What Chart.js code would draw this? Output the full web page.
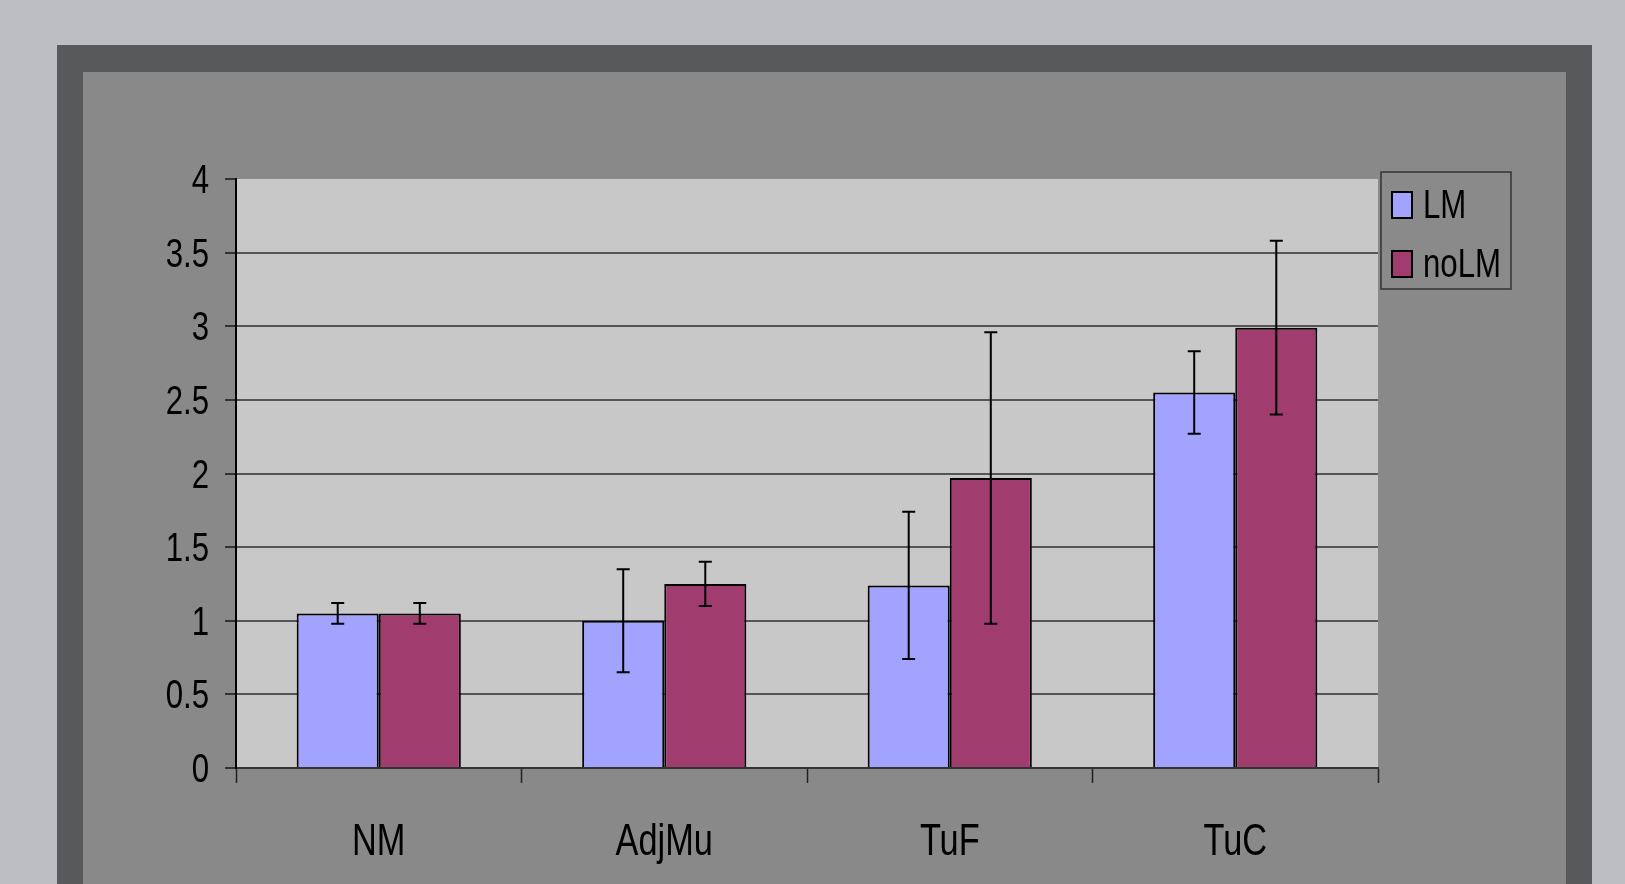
<!DOCTYPE html>
<html>
<head>
<meta charset="utf-8">
<title>LM vs noLM</title>
<script src="https://cdn.jsdelivr.net/npm/chart.js@4/dist/chart.umd.min.js"></script>
<style>
  html, body { margin: 0; padding: 0; background: #bdbec2; overflow: hidden; }
  canvas { display: block; }
</style>
</head>
<body>
<canvas id="myChart" width="1625" height="884"></canvas>
<script>
// Data
const categories = ['NM', 'AdjMu', 'TuF', 'TuC'];
const lmValues = [1.05, 1.0, 1.24, 2.55];
const lmErrors = [0.07, 0.35, 0.50, 0.28];
const noLmValues = [1.05, 1.25, 1.97, 2.99];
const noLmErrors = [0.07, 0.15, 0.99, 0.59];
const yTicks = [0, 0.5, 1, 1.5, 2, 2.5, 3, 3.5, 4];

const FONT = "'Liberation Sans Narrow', 'Arial Narrow', 'Liberation Sans', Arial, sans-serif";
const NARROW = 0.78; // squeeze to look like the narrow face of the original

// draw text squeezed horizontally
function narrowText(ctx, text, x, y, align) {
    ctx.save();
    ctx.translate(x, y);
    ctx.scale(NARROW, 1);
    ctx.textAlign = align;
    ctx.fillText(text, 0, 0);
    ctx.restore();
}

// Frame and plot background
const backgroundPlugin = {
    id: 'background',
    beforeDraw: function(chart) {
        const ctx = chart.ctx;
        const a = chart.chartArea;
        ctx.save();
        ctx.fillStyle = '#bdbec2';
        ctx.fillRect(0, 0, chart.width, chart.height);
        ctx.fillStyle = '#58595b';
        ctx.fillRect(57, 45, 1535, chart.height - 45);
        ctx.fillStyle = '#898989';
        ctx.fillRect(83, 72, 1483, chart.height - 72);
        ctx.fillStyle = '#c8c8c8';
        ctx.fillRect(a.left, a.top, a.right - a.left, a.bottom - a.top);
        ctx.restore();
    }
};

// Error bars drawn from the bar elements and the y scale
const errorBarPlugin = {
    id: 'errorBars',
    afterDatasetsDraw: function(chart) {
        const ctx = chart.ctx;
        const yScale = chart.scales.y;
        ctx.save();
        ctx.strokeStyle = '#000';
        ctx.lineWidth = 2;
        chart.data.datasets.forEach(function(ds, i) {
            const meta = chart.getDatasetMeta(i);
            meta.data.forEach(function(bar, j) {
                const v = ds.data[j];
                const e = ds.errors[j];
                const top = yScale.getPixelForValue(v + e);
                const bot = yScale.getPixelForValue(v - e);
                ctx.beginPath();
                ctx.moveTo(bar.x, top);
                ctx.lineTo(bar.x, bot);
                ctx.moveTo(bar.x - 6.5, top);
                ctx.lineTo(bar.x + 6.5, top);
                ctx.moveTo(bar.x - 6.5, bot);
                ctx.lineTo(bar.x + 6.5, bot);
                ctx.stroke();
            });
        });
        ctx.restore();
    }
};

// Axis labels, placed by the scales, drawn narrow
const axisLabelPlugin = {
    id: 'axisLabels',
    afterDraw: function(chart) {
        const ctx = chart.ctx;
        const x = chart.scales.x;
        const y = chart.scales.y;
        ctx.save();
        ctx.fillStyle = '#000';
        ctx.textBaseline = 'alphabetic';
        ctx.font = '40px ' + FONT;
        y.ticks.forEach(function(t) {
            narrowText(ctx, String(t.value), 209, y.getPixelForValue(t.value) + 14, 'right');
        });
        ctx.font = '44px ' + FONT;
        chart.data.labels.forEach(function(label, i) {
            narrowText(ctx, label, x.getPixelForValue(i), 855, 'center');
        });
        ctx.restore();
    }
};

// Boxed legend at the right of the plot
const legendBoxPlugin = {
    id: 'legendBox',
    afterDraw: function(chart) {
        const ctx = chart.ctx;
        ctx.save();
        ctx.fillStyle = '#8a8a8a';
        ctx.fillRect(1381, 172, 130, 117);
        ctx.strokeStyle = '#333';
        ctx.lineWidth = 1.5;
        ctx.strokeRect(1381, 172, 130, 117);
        const rows = [205, 264];
        ctx.font = '40px ' + FONT;
        ctx.textBaseline = 'alphabetic';
        chart.data.datasets.forEach(function(ds, i) {
            const cy = rows[i];
            ctx.fillStyle = ds.backgroundColor;
            ctx.fillRect(1392, cy - 13, 20, 26);
            ctx.strokeStyle = '#000';
            ctx.lineWidth = 2;
            ctx.strokeRect(1392, cy - 13, 20, 26);
            ctx.fillStyle = '#000';
            narrowText(ctx, ds.label, 1423, cy + 13, 'left');
        });
        ctx.restore();
    }
};

const data = {
    labels: categories,
    datasets: [
        {
            label: 'LM',
            data: lmValues,
            errors: lmErrors,
            backgroundColor: '#a2a2ff',
            borderColor: '#000',
            borderWidth: 2
        },
        {
            label: 'noLM',
            data: noLmValues,
            errors: noLmErrors,
            backgroundColor: '#a03c6e',
            borderColor: '#000',
            borderWidth: 2
        }
    ]
};

const config = {
    type: 'bar',
    data: data,
    options: {
        responsive: false,
        animation: false,
        layout: { padding: { left: 0, top: 179, right: 247, bottom: 0 } },
        datasets: { bar: { barPercentage: 1, categoryPercentage: 0.575 } },
        plugins: {
            legend: { display: false },
            tooltip: { enabled: false }
        },
        scales: {
            x: {
                grid: {
                    offset: true,
                    drawOnChartArea: false,
                    tickLength: 15,
                    tickColor: '#222',
                    tickWidth: 1.5
                },
                border: { color: '#333', width: 2 },
                ticks: { display: false },
                afterFit: function(scale) { scale.height = 116; }
            },
            y: {
                min: 0,
                max: 4,
                afterBuildTicks: function(scale) {
                    scale.ticks = yTicks.map(function(v) { return { value: v }; });
                },
                grid: {
                    color: function(c) { return c.tick && c.tick.value === 4 ? 'rgba(0,0,0,0)' : '#555'; },
                    lineWidth: 2,
                    tickLength: 11,
                    tickColor: '#333',
                    tickWidth: 2
                },
                border: { color: '#000', width: 2 },
                ticks: { display: false },
                afterFit: function(scale) { scale.width = 236; }
            }
        }
    },
    plugins: [backgroundPlugin, errorBarPlugin, axisLabelPlugin, legendBoxPlugin]
};

const myChart = new Chart(document.getElementById('myChart'), config);
</script>
</body>
</html>
